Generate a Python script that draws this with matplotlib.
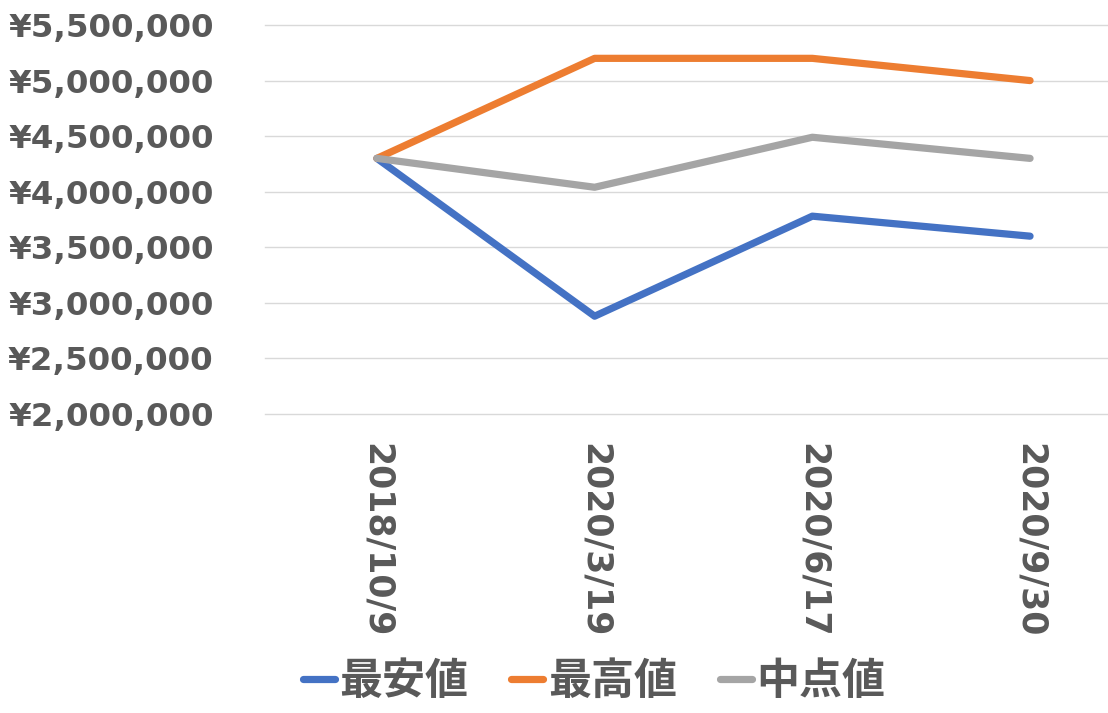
import matplotlib
matplotlib.use("Agg")
import matplotlib.pyplot as plt
from matplotlib.ticker import FuncFormatter, MultipleLocator

plt.rcParams['font.family'] = ['Noto Sans CJK JP', 'DejaVu Sans']

dates = ["2018/10/9", "2020/3/19", "2020/6/17", "2020/9/30"]
min_vals = [4300000, 2880000, 3780000, 3600000]
max_vals = [4300000, 5200000, 5200000, 5000000]
mid_vals = [4300000, 4040000, 4490000, 4300000]
series_names = ["最安値", "最高値", "中点値"]
colors = ["#4472C4", "#ED7D31", "#A5A5A5"]

W, H = 1108, 713
fig = plt.figure(figsize=(W / 100, H / 100), dpi=100)
left, right = 265 / W, 1.0
bottom, top = 1 - 414 / H, 1 - 25 / H
ax = fig.add_axes([left, bottom, right - left, top - bottom])

x = list(range(len(dates)))
for vals, name, c in zip([min_vals, max_vals, mid_vals], series_names, colors):
    ax.plot(x, vals, color=c, lw=5.2, label=name, solid_capstyle='round', solid_joinstyle='round')

ax.set_ylim(2000000, 5500000)
ax.set_xlim(-0.514, 3.358)
ax.yaxis.set_major_locator(MultipleLocator(500000))
ax.yaxis.set_major_formatter(FuncFormatter(lambda v, p: "¥{:,.0f}".format(v)))
ax.grid(axis='y', color='#D9D9D9', lw=1.0)
for gl in ax.get_ygridlines():
    gl.set_clip_on(False)
ax.set_axisbelow(True)
for s in ax.spines.values():
    s.set_visible(False)
ax.tick_params(axis='both', length=0, colors='#595959')
ax.tick_params(axis='y', pad=37)
ax.tick_params(axis='x', pad=21)
ax.set_xticks(x)
ax.set_xticklabels(dates, rotation=270, va='top', ha='center', color='#595959',
                   family='DejaVu Sans', size=25, weight='bold')
for lab in ax.get_yticklabels():
    lab.set_fontfamily('DejaVu Sans')
    lab.set_fontsize(23.4)
    lab.set_fontweight('bold')
    lab.set_color('#595959')

leg = fig.legend(loc='center', bbox_to_anchor=(594 / W, 1 - 681 / H), ncol=3, frameon=False,
                 prop={'size': 31, 'weight': 'bold'}, handlelength=0.75, handletextpad=0.1,
                 columnspacing=1.0)
for t in leg.get_texts():
    t.set_color('#595959')

fig.savefig("out.png", dpi=100)
